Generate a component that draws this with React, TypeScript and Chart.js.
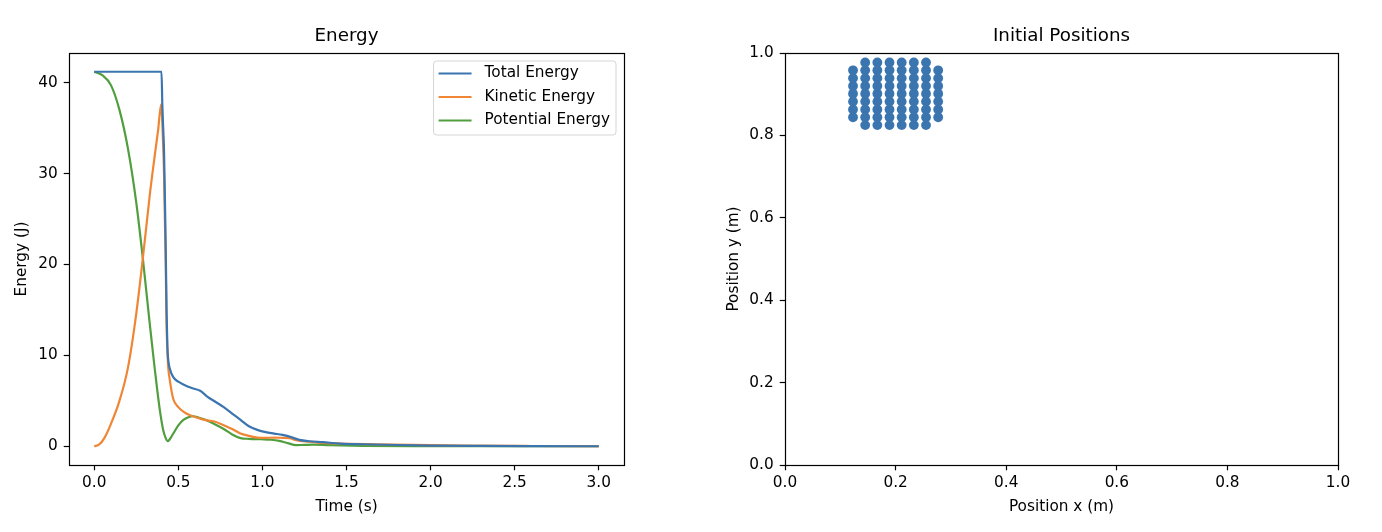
import React, { useEffect, useRef } from "react";
import { Chart, registerables } from "chart.js";

Chart.register(...registerables);

const FONT = "'DejaVu Sans', 'Liberation Sans', sans-serif";

// ---------- Energy data ----------
const totalTime = [0, 0.40, 0.405, 0.41, 0.415, 0.42, 0.425, 0.43, 0.435, 0.44, 0.45, 0.47, 0.5, 0.53, 0.58, 0.63, 0.67, 0.72, 0.77, 0.82, 0.87, 0.92, 0.97, 1.02, 1.07, 1.12, 1.18, 1.22, 1.28, 1.36, 1.46, 1.6, 1.8, 2.0, 2.3, 2.6, 3.0];
const totalEnergy = [41.2, 41.2, 37.5, 35.0, 32.5, 27.5, 22.0, 15.0, 11.0, 9.5, 8.5, 7.6, 7.1, 6.8, 6.4, 6.1, 5.5, 4.9, 4.3, 3.6, 2.9, 2.2, 1.8, 1.55, 1.4, 1.25, 0.95, 0.7, 0.55, 0.45, 0.3, 0.22, 0.14, 0.08, 0.04, 0.02, 0.0];

const kineticTime = [0, 0.03, 0.06, 0.1, 0.15, 0.2, 0.25, 0.3, 0.33, 0.36, 0.38, 0.398, 0.405, 0.41, 0.415, 0.42, 0.425, 0.43, 0.435, 0.44, 0.45, 0.47, 0.5, 0.53, 0.57, 0.62, 0.67, 0.72, 0.77, 0.82, 0.87, 0.92, 0.97, 1.02, 1.07, 1.12, 1.16, 1.2, 1.28, 1.36, 1.5, 1.66, 1.9, 2.2, 2.6, 3.0];
const kineticEnergy = [0, 0.2, 0.9, 2.5, 5.0, 8.6, 14.6, 22.5, 27.6, 32.0, 34.8, 37.6, 35.5, 33.0, 30.0, 25.0, 20.0, 13.5, 10.5, 8.7, 7.2, 5.2, 4.3, 3.8, 3.4, 3.1, 2.85, 2.7, 2.3, 1.9, 1.4, 1.15, 0.95, 0.92, 0.95, 0.92, 0.9, 0.66, 0.5, 0.37, 0.28, 0.22, 0.15, 0.08, 0.03, 0.0];

const potentialTime = [0, 0.05, 0.1, 0.15, 0.2, 0.25, 0.29, 0.33, 0.36, 0.39, 0.41, 0.425, 0.436, 0.45, 0.47, 0.5, 0.53, 0.56, 0.59, 0.62, 0.67, 0.72, 0.77, 0.82, 0.87, 0.92, 0.99, 1.05, 1.1, 1.15, 1.2, 1.25, 1.3, 1.4, 1.6, 2.0, 2.5, 3.0];
const potentialEnergy = [41.2, 40.8, 39.7, 37.0, 32.8, 26.8, 20.5, 13.5, 8.5, 4.0, 1.8, 0.9, 0.55, 0.8, 1.4, 2.3, 2.9, 3.2, 3.3, 3.15, 2.85, 2.4, 1.9, 1.3, 0.9, 0.82, 0.77, 0.72, 0.6, 0.35, 0.12, 0.15, 0.18, 0.12, 0.05, 0.02, 0.01, 0.0];

const energyXTicks = [0, 0.5, 1.0, 1.5, 2.0, 2.5, 3.0];
const energyYTicks = [0, 10, 20, 30, 40];

// ---------- Initial positions ----------
const posX = [
  0.123, 0.123, 0.123, 0.123, 0.123, 0.123, 0.123,
  0.145, 0.145, 0.145, 0.145, 0.145, 0.145, 0.145, 0.145, 0.145,
  0.167, 0.167, 0.167, 0.167, 0.167, 0.167, 0.167, 0.167, 0.167,
  0.189, 0.189, 0.189, 0.189, 0.189, 0.189, 0.189, 0.189, 0.189,
  0.211, 0.211, 0.211, 0.211, 0.211, 0.211, 0.211, 0.211, 0.211,
  0.233, 0.233, 0.233, 0.233, 0.233, 0.233, 0.233, 0.233, 0.233,
  0.255, 0.255, 0.255, 0.255, 0.255, 0.255, 0.255, 0.255, 0.255,
  0.277, 0.277, 0.277, 0.277, 0.277, 0.277, 0.277,
];
const posY = [
  0.844, 0.863, 0.882, 0.901, 0.920, 0.939, 0.958,
  0.825, 0.844, 0.863, 0.882, 0.901, 0.920, 0.939, 0.958, 0.977,
  0.825, 0.844, 0.863, 0.882, 0.901, 0.920, 0.939, 0.958, 0.977,
  0.825, 0.844, 0.863, 0.882, 0.901, 0.920, 0.939, 0.958, 0.977,
  0.825, 0.844, 0.863, 0.882, 0.901, 0.920, 0.939, 0.958, 0.977,
  0.825, 0.844, 0.863, 0.882, 0.901, 0.920, 0.939, 0.958, 0.977,
  0.825, 0.844, 0.863, 0.882, 0.901, 0.920, 0.939, 0.958, 0.977,
  0.844, 0.863, 0.882, 0.901, 0.920, 0.939, 0.958,
];
const posTicks = [0, 0.2, 0.4, 0.6, 0.8, 1.0];

const BLUE = "#3b75af";
const ORANGE = "#ef8636";
const GREEN = "#519e3e";

const FS = 15.3;
const TICK_FONT = { family: FONT, size: FS };
const LABEL_FONT = { family: FONT, size: FS };

const frameLegendPlugin = {
  id: "mplFrameLegend",
  afterDraw(chart: any, _args: any, opts: any) {
    const { ctx, chartArea: a } = chart;
    ctx.save();
    ctx.strokeStyle = "#000";
    ctx.lineWidth = 1.2;
    ctx.strokeRect(Math.round(a.left) + 0.5, Math.round(a.top) + 0.5, Math.round(a.right - a.left), Math.round(a.bottom - a.top));
    // axes title
    if (opts && opts.title) {
      ctx.font = `18.3px ${FONT}`;
      ctx.fillStyle = "#000";
      ctx.textAlign = "center";
      ctx.textBaseline = "middle";
      ctx.fillText(opts.title, (a.left + a.right) / 2, a.top - 17);
    }
    if (opts && opts.legend) {
      ctx.font = `${FS}px ${FONT}`;
      const ds = chart.data.datasets;
      let maxW = 0;
      ds.forEach((d: any) => { maxW = Math.max(maxW, ctx.measureText(d.label).width); });
      const textX = 51;
      const w = textX + maxW + 6;
      const h = 74;
      const right = a.right - 8;
      const left = right - w;
      const top = a.top + 8;
      ctx.beginPath();
      const r = 3;
      ctx.moveTo(left + r, top);
      ctx.lineTo(left + w - r, top);
      ctx.quadraticCurveTo(left + w, top, left + w, top + r);
      ctx.lineTo(left + w, top + h - r);
      ctx.quadraticCurveTo(left + w, top + h, left + w - r, top + h);
      ctx.lineTo(left + r, top + h);
      ctx.quadraticCurveTo(left, top + h, left, top + h - r);
      ctx.lineTo(left, top + r);
      ctx.quadraticCurveTo(left, top, left + r, top);
      ctx.closePath();
      ctx.fillStyle = "rgba(255,255,255,0.8)";
      ctx.fill();
      ctx.strokeStyle = "#d5d5d5";
      ctx.lineWidth = 1;
      ctx.stroke();
      ds.forEach((d: any, i: number) => {
        const y = top + 12.5 + i * 23.5;
        ctx.strokeStyle = d.borderColor;
        ctx.lineWidth = 2.2;
        ctx.beginPath();
        ctx.moveTo(left + 5, y);
        ctx.lineTo(left + 38, y);
        ctx.stroke();
        ctx.fillStyle = "#000";
        ctx.textBaseline = "middle";
        ctx.textAlign = "left";
        ctx.fillText(d.label, left + textX, y);
      });
    }
    ctx.restore();
  },
};

function axisCommon(extra: any) {
  return {
    type: "linear",
    grid: { display: true, drawOnChartArea: false, drawTicks: true, tickLength: 5.3, color: "#000", tickWidth: 1.2 },
    border: { display: false },
    ...extra,
  };
}

function pairs(xs: number[], ys: number[]) {
  return xs.map((x, i) => ({ x, y: ys[i] }));
}

export default function App() {
  const energyRef = useRef<HTMLCanvasElement>(null);
  const posRef = useRef<HTMLCanvasElement>(null);

  useEffect(() => {
    const lineDs = (label: string, xs: number[], ys: number[], color: string) => ({
      label,
      data: pairs(xs, ys),
      borderColor: color,
      backgroundColor: color,
      borderWidth: 2.2,
      pointRadius: 0,
      cubicInterpolationMode: "monotone",
    });

    const c1 = new Chart(energyRef.current as HTMLCanvasElement, {
      type: "line",
      data: {
        datasets: [
          lineDs("Total Energy", totalTime, totalEnergy, BLUE),
          lineDs("Kinetic Energy", kineticTime, kineticEnergy, ORANGE),
          lineDs("Potential Energy", potentialTime, potentialEnergy, GREEN),
        ],
      },
      options: {
        animation: false,
        responsive: false,
        events: [],
        layout: { padding: { left: 0, right: 67, top: 53, bottom: 0 } },
        plugins: {
          legend: { display: false },
          tooltip: { enabled: false },
          title: { display: false },
          mplFrameLegend: { legend: true, title: "Energy" },
        } as any,
        scales: {
          x: axisCommon({
            min: -0.15, max: 3.15,
            afterBuildTicks: (s: any) => { s.ticks = energyXTicks.map((v) => ({ value: v })); },
            afterFit: (s: any) => { s.height = 67; },
            ticks: { color: "#000", font: TICK_FONT, padding: 4, maxRotation: 0, autoSkip: false, callback: (v: any) => Number(v).toFixed(1) },
            title: { display: true, text: "Time (s)", color: "#000", font: LABEL_FONT, padding: { top: 16, bottom: 16 } },
          }),
          y: axisCommon({
            min: -2.06, max: 43.26,
            afterBuildTicks: (s: any) => { s.ticks = energyYTicks.map((v) => ({ value: v })); },
            afterFit: (s: any) => { s.width = 69; },
            ticks: { color: "#000", font: TICK_FONT, padding: 6, autoSkip: false, callback: (v: any) => String(v) },
            title: { display: true, text: "Energy (J)", color: "#000", font: LABEL_FONT, padding: { top: 13, bottom: 13 } },
          }),
        },
      } as any,
      plugins: [frameLegendPlugin],
    });

    const c2 = new Chart(posRef.current as HTMLCanvasElement, {
      type: "scatter",
      data: {
        datasets: [
          { label: "Particles", data: pairs(posX, posY), backgroundColor: BLUE, borderWidth: 0, pointRadius: 4.9, pointHoverRadius: 4.9 },
        ],
      },
      options: {
        animation: false,
        responsive: false,
        events: [],
        layout: { padding: { left: 0, right: 44, top: 53, bottom: 0 } },
        plugins: {
          legend: { display: false },
          tooltip: { enabled: false },
          title: { display: false },
          mplFrameLegend: { legend: false, title: "Initial Positions" },
        } as any,
        scales: {
          x: axisCommon({
            min: 0, max: 1,
            afterBuildTicks: (s: any) => { s.ticks = posTicks.map((v) => ({ value: v })); },
            afterFit: (s: any) => { s.height = 67; },
            ticks: { color: "#000", font: TICK_FONT, padding: 4, maxRotation: 0, autoSkip: false, callback: (v: any) => Number(v).toFixed(1) },
            title: { display: true, text: "Position x (m)", color: "#000", font: LABEL_FONT, padding: { top: 16, bottom: 16 } },
          }),
          y: axisCommon({
            min: 0, max: 1,
            afterBuildTicks: (s: any) => { s.ticks = posTicks.map((v) => ({ value: v })); },
            afterFit: (s: any) => { s.width = 94; },
            ticks: { color: "#000", font: TICK_FONT, padding: 6, autoSkip: false, callback: (v: any) => Number(v).toFixed(1) },
            title: { display: true, text: "Position y (m)", color: "#000", font: LABEL_FONT, padding: { top: 34, bottom: 34 } },
          }),
        },
      } as any,
      plugins: [frameLegendPlugin],
    });

    return () => {
      c1.destroy();
      c2.destroy();
    };
  }, []);

  return (
    <div style={{ position: "fixed", left: 0, top: 0, width: 1382, height: 532, background: "#fff" }}>
      <canvas ref={energyRef} width={691} height={532} style={{ position: "absolute", left: 0, top: 0, width: 691, height: 532 }} />
      <canvas ref={posRef} width={691} height={532} style={{ position: "absolute", left: 691, top: 0, width: 691, height: 532 }} />
    </div>
  );
}
